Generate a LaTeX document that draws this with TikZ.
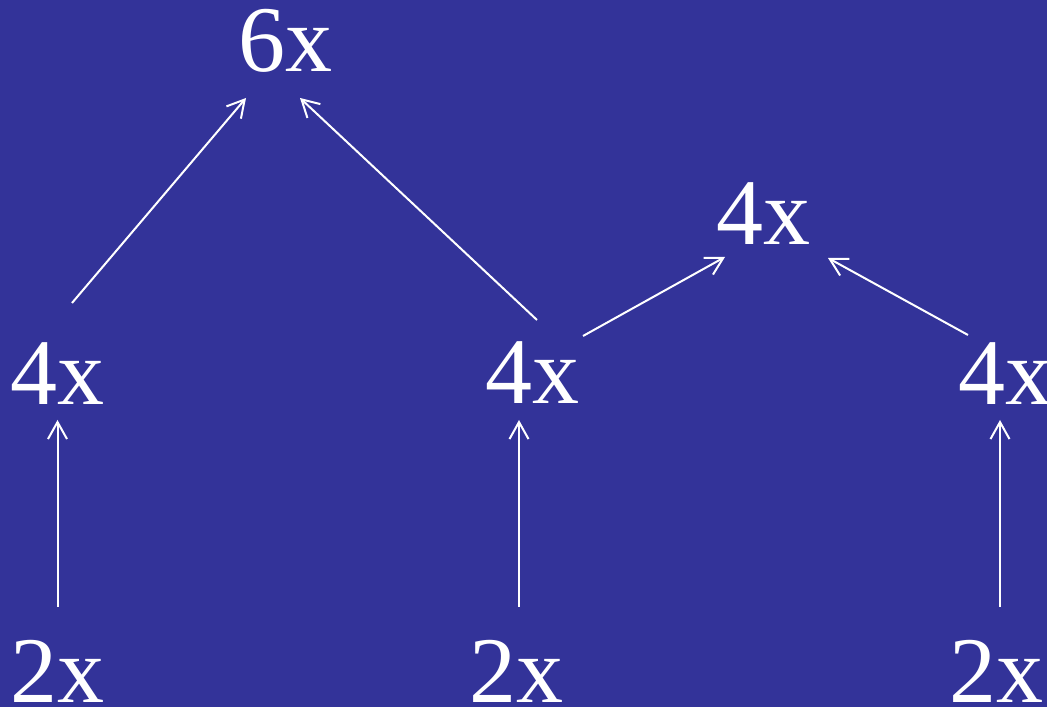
\documentclass[tikz,border=0pt]{standalone}
\usepackage{fontspec}
\setmainfont{Liberation Serif}
\usetikzlibrary{arrows.meta}
\definecolor{slideblue}{HTML}{333399}
\begin{document}
\begin{tikzpicture}[x=1pt, y=1pt, >={Straight Barb[length=17pt,width=19pt]},
  num/.style={inner sep=0pt, anchor=base, text=white, font=\fontsize{94}{94}\selectfont},
  link/.style={->, white, line width=2pt}]
  % background
  \fill[slideblue] (0,0) rectangle (1047,707);
  \useasboundingbox (0,0) rectangle (1047,707);
  % top and middle rows
  \node[num] (t6) at (285,635) {6x};
  \node[num] (t4) at (763.5,462) {4x};
  \node[num] (l4) at (57.5,302) {4x};
  \node[num] (m4) at (532,303) {4x};
  \node[num] (r4) at (1005,302) {4x};
  % bottom row
  \node[num] (l2) at (57.5,5) {2x};
  \node[num] (m2) at (516.5,5) {2x};
  \node[num] (r2) at (996.5,5) {2x};
  % arrows
  \draw[link] ([shift={(14.5,102)}]l4.base) -- ([shift={(-39,-26)}]t6.base);
  \draw[link] ([shift={(5,84)}]m4.base) -- ([shift={(15,-26)}]t6.base);
  \draw[link] ([shift={(51,68)}]m4.base) -- ([shift={(-38.5,-12)}]t4.base);
  \draw[link] ([shift={(-37,70)}]r4.base) -- ([shift={(64.5,-13)}]t4.base);
  \draw[link] ([shift={(0,95)}]l2.base) -- ([shift={(0,-15)}]l4.base);
  \draw[link] ([shift={(2.5,95)}]m2.base) -- ([shift={(-13,-16)}]m4.base);
  \draw[link] ([shift={(3.5,95)}]r2.base) -- ([shift={(-5,-15)}]r4.base);
\end{tikzpicture}
\end{document}
